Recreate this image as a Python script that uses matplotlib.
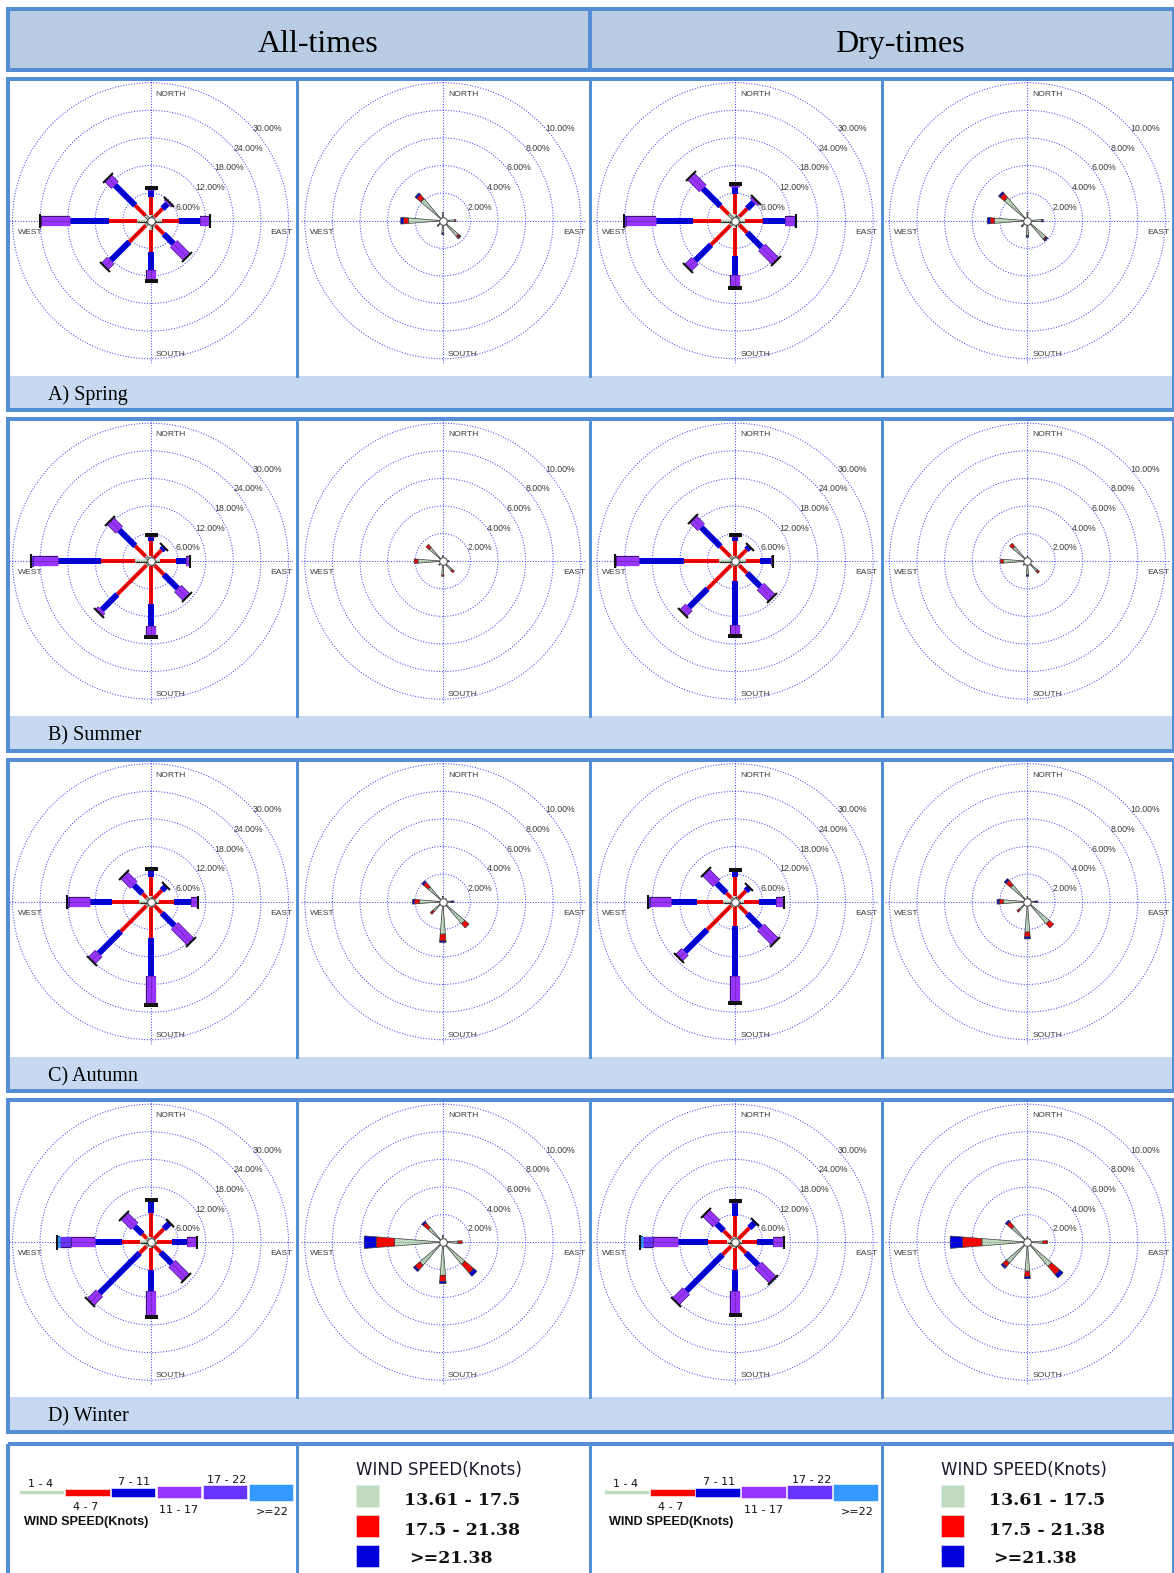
import matplotlib
matplotlib.use("Agg")
import numpy as np
import matplotlib.pyplot as plt
from matplotlib.patches import Rectangle
from matplotlib.markers import MarkerStyle
from matplotlib.transforms import Affine2D
import matplotlib.patheffects as pe

# ---------------------------------------------------------------- data ----
DIRECTIONS = ["N", "NE", "E", "SE", "S", "SW", "W", "NW"]
DIR_DEG = [0, 45, 90, 135, 180, 225, 270, 315]

FULL_BINS = ["1 - 4", "4 - 7", "7 - 11", "11 - 17", "17 - 22", ">=22"]
FULL_COLORS = ["#C0DCC0", "#FF0000", "#0000DD", "#9933FF", "#6633FF", "#3399FF"]
HIGH_BINS = ["13.61 - 17.5", "17.5 - 21.38", ">=21.38"]
HIGH_COLORS = ["#C0DCC0", "#FF0000", "#0000DD"]

FULL_RINGS = [6, 12, 18, 24, 30]
HIGH_RINGS = [2, 4, 6, 8, 10]

COLUMN_TITLES = ["All-times", "Dry-times"]
SEASONS = ["A) Spring", "B) Summer", "C) Autumn", "D) Winter"]

# frequency (%) per direction (N..NW) and per speed bin (1-4 .. >=22 knots)
SPRING_ALL = [
    [1.2, 4.0, 1.5, 0.5, 0.0, 0.0],
    [1.2, 2.5, 1.5, 0.5, 0.0, 0.0],
    [2.5, 3.7, 4.5, 2.0, 0.3, 0.0],
    [1.5, 2.6, 3.0, 4.1, 0.0, 0.0],
    [2.0, 4.7, 4.0, 2.4, 0.0, 0.0],
    [1.5, 5.0, 5.7, 1.9, 0.0, 0.0],
    [2.9, 6.2, 8.3, 6.3, 0.4, 0.0],
    [1.6, 3.1, 6.2, 2.2, 0.0, 0.0],
]
SPRING_DRY = [
    [1.5, 4.2, 1.6, 0.6, 0.0, 0.0],
    [1.3, 2.4, 2.0, 0.6, 0.0, 0.0],
    [2.2, 3.8, 4.9, 2.0, 0.3, 0.0],
    [1.3, 2.4, 4.5, 4.3, 0.0, 0.0],
    [1.6, 6.1, 4.1, 2.5, 0.3, 0.0],
    [1.5, 5.9, 4.9, 2.1, 0.0, 0.0],
    [3.1, 6.1, 8.1, 6.4, 0.4, 0.0],
    [2.0, 2.5, 5.4, 3.8, 0.0, 0.0],
]
SUMMER_ALL = [
    [1.1, 3.2, 1.0, 0.3, 0.0, 0.0],
    [1.0, 2.4, 0.9, 0.0, 0.0, 0.0],
    [2.0, 3.5, 2.2, 0.8, 0.0, 0.0],
    [1.3, 2.8, 4.3, 2.7, 0.0, 0.0],
    [1.1, 8.2, 4.8, 2.1, 0.3, 0.0],
    [1.3, 8.9, 4.8, 0.9, 0.0, 0.0],
    [3.4, 7.3, 9.5, 5.3, 0.4, 0.0],
    [1.5, 3.2, 4.9, 2.9, 0.0, 0.0],
]
SUMMER_DRY = [
    [1.1, 3.2, 1.0, 0.3, 0.0, 0.0],
    [1.0, 2.5, 1.0, 0.0, 0.0, 0.0],
    [2.3, 3.2, 2.4, 0.4, 0.0, 0.0],
    [1.3, 2.4, 4.1, 3.5, 0.0, 0.0],
    [1.1, 3.2, 9.5, 2.1, 0.3, 0.0],
    [1.3, 7.2, 5.7, 1.8, 0.0, 0.0],
    [3.4, 7.8, 9.6, 5.0, 0.4, 0.0],
    [1.5, 3.0, 5.9, 2.6, 0.0, 0.0],
]
AUTUMN_ALL = [
    [1.3, 4.0, 1.5, 0.2, 0.0, 0.0],
    [1.0, 2.5, 1.2, 0.0, 0.0, 0.0],
    [1.8, 3.2, 3.8, 1.6, 0.0, 0.0],
    [1.3, 2.2, 3.9, 4.9, 0.0, 0.0],
    [1.2, 6.6, 8.3, 6.0, 0.4, 0.0],
    [1.3, 7.8, 6.8, 2.2, 0.0, 0.0],
    [2.6, 5.7, 4.9, 4.6, 0.3, 0.0],
    [1.2, 1.3, 2.6, 3.2, 0.0, 0.0],
]
AUTUMN_DRY = [
    [1.3, 4.1, 1.2, 0.3, 0.0, 0.0],
    [1.0, 2.3, 1.1, 0.0, 0.0, 0.0],
    [2.0, 3.2, 3.6, 1.9, 0.0, 0.0],
    [1.3, 2.4, 4.2, 4.5, 0.0, 0.0],
    [1.2, 4.0, 10.9, 5.5, 0.4, 0.0],
    [1.3, 7.3, 6.8, 2.0, 0.0, 0.0],
    [2.6, 5.7, 5.7, 4.6, 0.3, 0.0],
    [1.2, 1.5, 3.0, 3.4, 0.0, 0.0],
]
WINTER_ALL = [
    [1.2, 5.1, 2.6, 0.3, 0.0, 0.0],
    [1.1, 3.0, 1.9, 0.0, 0.0, 0.0],
    [1.5, 3.2, 3.3, 2.1, 0.0, 0.0],
    [1.2, 1.9, 3.5, 4.3, 0.0, 0.0],
    [1.2, 4.8, 4.7, 5.6, 0.0, 0.0],
    [1.3, 2.0, 12.4, 2.8, 0.0, 0.0],
    [2.2, 3.9, 5.9, 5.2, 2.4, 0.8],
    [1.2, 1.3, 2.4, 3.3, 0.0, 0.0],
]
WINTER_DRY = [
    [1.2, 4.4, 3.0, 0.4, 0.0, 0.0],
    [1.1, 3.3, 1.8, 0.0, 0.0, 0.0],
    [1.5, 3.2, 3.6, 2.4, 0.0, 0.0],
    [1.2, 2.1, 3.8, 4.6, 0.0, 0.0],
    [1.2, 4.8, 4.7, 5.2, 0.0, 0.0],
    [1.3, 2.5, 11.2, 3.3, 0.0, 0.0],
    [1.8, 4.1, 6.5, 5.4, 2.2, 0.6],
    [1.2, 2.3, 2.2, 3.4, 0.0, 0.0],
]

# frequency (%) per direction (N..NW) for the high-speed classes
SPRING_ALL_HIGH = [
    [0.6, 0.0, 0.0], [0.2, 0.0, 0.0], [0.85, 0.1, 0.0], [1.5, 0.15, 0.08],
    [0.9, 0.0, 0.1], [0.45, 0.1, 0.0], [2.5, 0.35, 0.2], [2.1, 0.4, 0.15],
]
SPRING_DRY_HIGH = [
    [0.6, 0.0, 0.0], [0.2, 0.0, 0.0], [1.05, 0.0, 0.1], [1.75, 0.1, 0.1],
    [1.1, 0.0, 0.1], [0.5, 0.1, 0.0], [2.4, 0.3, 0.2], [2.2, 0.4, 0.15],
]
SUMMER_ALL_HIGH = [
    [0.4, 0.0, 0.0], [0.3, 0.0, 0.0], [0.4, 0.0, 0.05], [0.9, 0.2, 0.0],
    [1.0, 0.1, 0.0], [0.4, 0.0, 0.0], [1.8, 0.27, 0.0], [1.3, 0.3, 0.0],
]
SUMMER_DRY_HIGH = [
    [0.35, 0.0, 0.0], [0.25, 0.0, 0.0], [0.35, 0.0, 0.0], [0.95, 0.2, 0.0],
    [1.0, 0.0, 0.1], [0.4, 0.0, 0.0], [1.75, 0.2, 0.0], [1.4, 0.3, 0.0],
]
AUTUMN_ALL_HIGH = [
    [0.4, 0.0, 0.0], [0.3, 0.0, 0.0], [0.6, 0.0, 0.2], [2.1, 0.4, 0.0],
    [2.35, 0.5, 0.1], [0.95, 0.25, 0.0], [1.7, 0.35, 0.15], [1.4, 0.45, 0.15],
]
AUTUMN_DRY_HIGH = [
    [0.4, 0.0, 0.0], [0.3, 0.0, 0.0], [0.55, 0.0, 0.2], [2.1, 0.4, 0.0],
    [2.2, 0.35, 0.15], [0.8, 0.2, 0.0], [1.75, 0.3, 0.15], [1.6, 0.45, 0.15],
]
WINTER_ALL_HIGH = [
    [0.5, 0.0, 0.0], [0.3, 0.0, 0.0], [1.1, 0.3, 0.0], [2.1, 0.85, 0.3],
    [2.4, 0.45, 0.15], [2.2, 0.45, 0.15], [3.5, 1.33, 0.87], [1.4, 0.45, 0.15],
]
WINTER_DRY_HIGH = [
    [0.4, 0.0, 0.0], [0.3, 0.0, 0.0], [1.1, 0.35, 0.0], [2.3, 0.8, 0.3],
    [2.1, 0.4, 0.15], [2.0, 0.35, 0.15], [3.3, 1.4, 0.9], [1.5, 0.45, 0.15],
]

PANELS = [
    [SPRING_ALL, SPRING_ALL_HIGH, SPRING_DRY, SPRING_DRY_HIGH],
    [SUMMER_ALL, SUMMER_ALL_HIGH, SUMMER_DRY, SUMMER_DRY_HIGH],
    [AUTUMN_ALL, AUTUMN_ALL_HIGH, AUTUMN_DRY, AUTUMN_DRY_HIGH],
    [WINTER_ALL, WINTER_ALL_HIGH, WINTER_DRY, WINTER_DRY_HIGH],
]

# --------------------------------------------------------------- style ----
W, H = 1174, 1573
PT = 0.72                     # points per pixel at 100 dpi
FRAME = "#558ED5"
HEADER_FILL = "#B8CCE4"
BAND_FILL = "#C6D9F1"
GRID = "#4848F0"
TXT = "#3a3a3a"

BAR_PX = [2.0, 4.0, 6.0, 9.0, 10.0, 11.0]
BAR_EDGE = ["#2a2a2a", None, None, "#3a1670", "#2a1670", "#1a4a90"]

COL_X = [150.5 + 292.3 * j for j in range(4)]
ROW_Y = [220.7 + 340.5 * i for i in range(4)]
SEPARATORS = [297.0, 589.5, 881.5]
LEFT, RIGHT = 7.5, 1173.5
R_PX = 138.0

fig = plt.figure(figsize=(W / 100, H / 100), dpi=100, facecolor="white")
base = fig.add_axes([0, 0, 1, 1])
base.set_xlim(0, W)
base.set_ylim(H, 0)
base.axis("off")

frame_lw = 4 * PT

# header
base.add_patch(Rectangle((LEFT, 9), RIGHT - LEFT, 61, facecolor=HEADER_FILL,
                         edgecolor=FRAME, lw=frame_lw))
base.plot([589.5, 589.5], [9, 70], color=FRAME, lw=frame_lw)
for title, xc in zip(COLUMN_TITLES, [318, 900]):
    base.text(xc, 52, title, ha="center", va="baseline", fontsize=23,
              family="Liberation Serif", color="black")

# season blocks
for i, season in enumerate(SEASONS):
    cy = ROW_Y[i]
    top, band_top, bottom = cy - 142, cy + 155, cy + 189.5
    base.add_patch(Rectangle((LEFT, band_top), RIGHT - LEFT, bottom - band_top,
                             facecolor=BAND_FILL, edgecolor="none"))
    base.add_patch(Rectangle((LEFT, top), RIGHT - LEFT, bottom - top,
                             facecolor="none", edgecolor=FRAME, lw=frame_lw))
    for sx in SEPARATORS:
        base.plot([sx, sx], [top, band_top], color=FRAME, lw=3 * PT)
    base.text(48, cy + 179.3, season, ha="left", va="baseline", fontsize=14.5,
              family="Liberation Serif", color="black")

# legend block
leg_top = 1444
base.add_patch(Rectangle((LEFT, leg_top), RIGHT - LEFT, H + 20 - leg_top,
                         facecolor="none", edgecolor=FRAME, lw=frame_lw))
for sx in SEPARATORS:
    base.plot([sx, sx], [leg_top, H + 5], color=FRAME, lw=3 * PT)

# legend for all speed classes (columns 1 and 3)
key_x0 = [19.3, 65.3, 110.7, 156.7, 202.7, 248.7]
key_w = 44.6
key_h = [4.3, 7.3, 9.4, 12.3, 14.3, 16.7]
lab_x = [40.8, 86.0, 134.0, 178.5, 226.7, 272.8]
lab_base = [1487.3, 1510.0, 1485.0, 1512.7, 1482.7, 1515.0]
for j in (0, 2):
    off = COL_X[j] - COL_X[0]
    for b, name in enumerate(FULL_BINS):
        base.add_patch(Rectangle((key_x0[b] + off, 1492.2 - key_h[b] / 2), key_w, key_h[b],
                                 facecolor=FULL_COLORS[b], edgecolor="white", lw=0.4))
        base.text(lab_x[b] + off, lab_base[b], name, ha="center", va="baseline",
                  fontsize=8, family="DejaVu Sans", color="#111111")
    base.text(24 + off, 1524.5, "WIND SPEED(Knots)", ha="left", va="baseline",
              fontsize=9.1, family="Liberation Sans", weight="bold", color="#111111")

# legend for high speed classes (columns 2 and 4)
sq_top = [1485.0, 1515.0, 1545.0]
txt_base = [1505.0, 1535.0, 1563.3]
txt_x = [404.0, 404.0, 409.0]
for j in (1, 3):
    off = COL_X[j] - COL_X[1]
    base.text(356 + off, 1475, "WIND SPEED(Knots)", ha="left", va="baseline",
              fontsize=12, family="DejaVu Sans", color="#1a1a2e")
    for b, name in enumerate(HIGH_BINS):
        base.add_patch(Rectangle((356 + off, sq_top[b]), 23, 22.3,
                                 facecolor=HIGH_COLORS[b], edgecolor="#e8e8e8", lw=0.4))
        base.text(txt_x[b] + off, txt_base[b], name, ha="left", va="baseline",
                  fontsize=12.5, family="DejaVu Serif", weight="bold", color="#111111")


def polar_panel(cx, cy, rmax, rings):
    lim = rmax * 1.035
    half = R_PX * 1.035
    ax = fig.add_axes([(cx - half) / W, 1 - (cy + half) / H, 2 * half / W, 2 * half / H],
                      projection="polar")
    ax.set_theta_zero_location("N")
    ax.set_theta_direction(-1)
    ax.patch.set_visible(False)
    ax.spines["polar"].set_visible(False)
    ax.set_rgrids(rings, labels=[""] * len(rings))
    ax.set_thetagrids([0, 90, 180, 270], labels=[""] * 4)
    ax.grid(True, color=GRID, lw=0.75, ls=(0, (1, 1.6)))
    ax.set_autoscale_on(False)
    ax.set_ylim(0, lim)
    return ax


def draw_full_rose(ax, table):
    for d, vals in enumerate(table):
        th = np.deg2rad(DIR_DEG[d])
        cum, last = 0.0, 0
        for b, v in enumerate(vals):
            if v <= 0:
                continue
            effects = None
            if BAR_EDGE[b]:
                effects = [pe.Stroke(linewidth=BAR_PX[b] * PT + 0.9, foreground=BAR_EDGE[b]),
                           pe.Normal()]
            ax.plot([th, th], [cum, cum + v], color=FULL_COLORS[b], lw=BAR_PX[b] * PT,
                    solid_capstyle="butt", zorder=3, path_effects=effects)
            cum += v
            last = b
        ax.plot([th, th], [0, cum], color="#1a1a1a", lw=0.55, ls=(0, (1, 2)), zorder=4)
        cap = MarkerStyle("|", transform=Affine2D().rotate_deg(90 - DIR_DEG[d]))
        ax.plot([th], [cum], linestyle="none", marker=cap, ms=(BAR_PX[last] + 4) * PT,
                mew=1.5, mec="#111111", zorder=5)


def draw_high_rose(ax, table):
    for d, vals in enumerate(table):
        th = np.deg2rad(DIR_DEG[d])
        cum = 0.0
        for b, v in enumerate(vals):
            if v <= 0:
                continue
            ax.bar(th, v, width=0.16, bottom=cum, color=HIGH_COLORS[b],
                   edgecolor="#3a3a3a", linewidth=0.5, zorder=3)
            cum += v
        ax.plot([th, th], [0, cum], color="#555555", lw=0.5, ls=(0, (1, 2)), zorder=4)


for i in range(4):
    for j in range(4):
        cx, cy = COL_X[j], ROW_Y[i]
        full = j in (0, 2)
        rings = FULL_RINGS if full else HIGH_RINGS
        ax = polar_panel(cx, cy, rings[-1], rings)
        if full:
            draw_full_rose(ax, PANELS[i][j])
        else:
            draw_high_rose(ax, PANELS[i][j])
        ax.plot([0], [0], linestyle="none", marker="o", ms=5.5, mfc="white",
                mec="#555555", mew=0.8, zorder=10)

        # compass and ring labels
        lab = dict(fontsize=6.1, family="Liberation Sans", color=TXT, va="baseline")
        base.text(cx + 5, cy - 125, "NORTH", ha="left", **lab)
        base.text(cx + 5, cy + 135, "SOUTH", ha="left", **lab)
        base.text(cx - 133, cy + 13, "WEST", ha="left", **lab)
        base.text(cx + 120, cy + 13, "EAST", ha="left", **lab)
        for k, rv in enumerate(rings):
            base.text(cx + 25.2 + 19.3 * k, cy - 11 - 19.6 * k, f"{rv:.2f}%",
                      ha="left", fontsize=6.3, family="Liberation Sans", color=TXT,
                      va="baseline")

fig.savefig("out.png", dpi=100, facecolor="white")
